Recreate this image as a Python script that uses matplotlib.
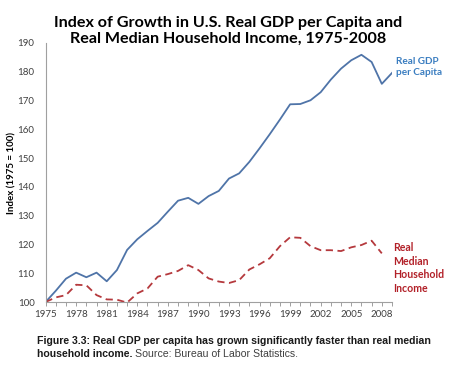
import matplotlib
matplotlib.use("Agg")
import matplotlib.pyplot as plt
import numpy as np

years_gdp = list(range(1975, 2010))
gdp = [100.0, 103.9, 108.1, 110.2, 108.6, 110.2, 107.2, 111.1, 118.1, 121.8,
       124.7, 127.5, 131.4, 135.2, 136.2, 134.1, 136.8, 138.6, 142.9, 144.7,
       148.7, 153.4, 158.3, 163.4, 168.7, 168.8, 170.1, 172.9, 177.3, 181.1,
       184.0, 185.9, 183.4, 175.8, 179.6]
years_inc = list(range(1975, 2009))
income = [100.0, 101.6, 102.4, 106.0, 105.8, 102.4, 100.9, 100.8, 99.8, 103.0,
          104.7, 108.8, 109.7, 110.8, 112.8, 111.1, 108.2, 107.1, 106.6, 107.6,
          111.3, 113.1, 115.2, 119.4, 122.5, 122.3, 119.4, 118.0, 118.0, 117.7,
          119.0, 119.8, 121.3, 116.9]
xtick_years = list(range(1975, 2009, 3))
yticks = list(range(100, 191, 10))

W, H = 453, 368
fig = plt.figure(figsize=(W / 100, H / 100), dpi=100)
fig.patch.set_facecolor("white")

left, right, bottom, top = 45.6, 392, 302, 43
ax = fig.add_axes([left / W, 1 - bottom / H, (right - left) / W, (bottom - top) / H])

ax.plot(years_gdp, gdp, color="#4F74A8", lw=1.3)
ax.plot(years_inc, income, color="#B5393D", lw=1.3, dashes=(4, 2.5))

ax.set_xlim(1975, 2009)
ax.set_ylim(100, 190)
ax.set_yticks(yticks)
ax.set_xticks(xtick_years)
ax.set_xticks(list(range(1975, 2010)), minor=True)
ax.set_xticklabels([str(y) for y in xtick_years], fontsize=7, color="#404040", family="Lato")
ax.set_yticklabels([str(y) for y in yticks], fontsize=7, color="#404040", family="Lato")
ax.tick_params(axis="y", length=0, pad=8)
ax.tick_params(axis="x", which="both", length=3, color="#A0A0A0", direction="out", width=0.7, pad=3)
for s in ["top", "right"]:
    ax.spines[s].set_visible(False)
for s in ["left", "bottom"]:
    ax.spines[s].set_color("#A0A0A0")
    ax.spines[s].set_linewidth(0.8)

fig.text(12 / W, 1 - 172.5 / H, "Index (1975 = 100)", rotation=90, ha="center", va="center",
         fontsize=7, fontweight="bold", family="Lato")

fig.text(228 / W, 1 - 31 / H, "Index of Growth in U.S. Real GDP per Capita and\nReal Median Household Income, 1975-2008",
         ha="center", va="center", fontsize=11.6, fontweight="bold", family="Lato", linespacing=1.2)

fig.text(396 / W, 1 - 67 / H, "Real GDP\nper Capita", ha="left", va="center", fontsize=7.2,
         fontweight="bold", color="#3A7DC0", family="Lato", linespacing=1.3)
fig.text(393 / W, 1 - 268 / H, "Real\nMedian\nHousehold\nIncome", ha="left", va="center", fontsize=7.6,
         fontweight="bold", color="#B22028", family="Lato", linespacing=1.3)

fs = 7.6
fig.text(37 / W, 1 - 341 / H, "Figure 3.3: Real GDP per capita has grown significantly faster than real median",
         ha="left", va="center", fontsize=fs, fontweight="bold", family="Liberation Sans", color="#1a1a1a")
t = fig.text(37 / W, 1 - 354 / H, "household income.", ha="left", va="center", fontsize=fs,
             fontweight="bold", family="Liberation Sans", color="#1a1a1a")
fig.canvas.draw()
bb = t.get_window_extent()
fig.text((bb.x1 + 2.5) / W, 1 - 354 / H, "Source: Bureau of Labor Statistics.", ha="left", va="center",
         fontsize=fs, family="Liberation Sans", color="#404040")

fig.savefig("out.png", dpi=100)
